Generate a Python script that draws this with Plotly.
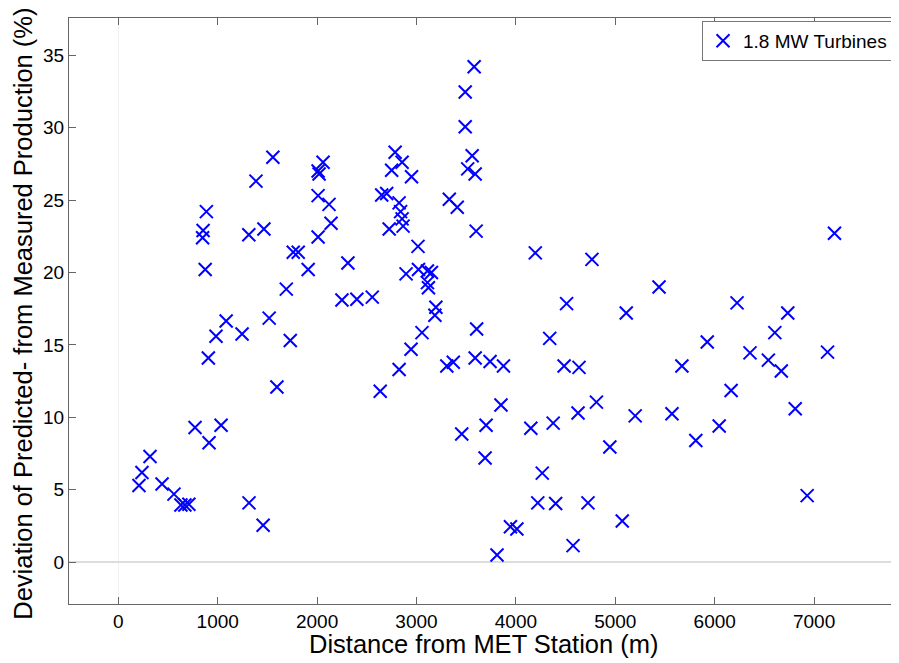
import plotly.graph_objects as go

distance_m = [
    208, 238, 319, 440, 560, 630, 670, 710, 772, 913, 1034, 1315, 1457,
    906, 983, 1245, 1730, 1596, 1555, 1385, 886, 853, 848, 874, 1313, 1465,
    1760, 1810, 1910, 1690, 1085, 1518,
    2010, 2020, 2060, 2010, 2120, 2140, 2010, 2310, 2250, 2400, 2555,
    2785, 2855, 2750, 2950, 2650, 2700, 2825, 2840, 2855, 2725, 2865,
    3015, 2895, 3020, 3110, 3150, 3110, 3120, 3195, 3185, 3055, 2945, 2825, 2635,
    3580, 3490, 3490, 3560, 3515, 3590, 3330, 3410, 3600, 3605, 3590,
    3305, 3370, 3740, 3875, 3850, 3700, 3455, 3690,
    4195, 4765, 4510, 4340, 4485, 4635, 4150, 4375, 4625, 4810, 4265,
    4220, 4400, 4725, 3945, 4010, 3810, 4575,
    5440, 5110, 6225, 6735, 6605, 5925, 6355, 6540, 6670, 7135, 5670,
    6165, 5200, 5570, 4945, 5810, 6045, 6810, 6930, 5070, 7205,
]
deviation_pct = [
    5.3, 6.2, 7.3, 5.4, 4.7, 3.95, 3.95, 4.0, 9.3, 8.25, 9.45, 4.1, 2.55,
    14.1, 15.6, 15.75, 15.3, 12.1, 27.95, 26.3, 24.2, 22.9, 22.4, 20.2, 22.6, 23.0,
    21.4, 21.4, 20.2, 18.85, 16.65, 16.85,
    27.0, 26.8, 27.6, 25.3, 24.7, 23.4, 22.45, 20.65, 18.1, 18.15, 18.3,
    28.3, 27.6, 27.05, 26.6, 25.35, 25.45, 24.8, 24.2, 23.7, 23.0, 23.2,
    21.8, 19.9, 20.2, 20.1, 20.0, 19.3, 18.95, 17.6, 17.05, 15.85, 14.7, 13.3, 11.8,
    34.2, 32.45, 30.05, 28.05, 27.15, 26.8, 25.05, 24.5, 22.85, 16.1, 14.1,
    13.55, 13.8, 13.85, 13.55, 10.85, 9.45, 8.85, 7.2,
    21.35, 20.9, 17.85, 15.45, 13.55, 13.45, 9.25, 9.6, 10.3, 11.05, 6.15,
    4.1, 4.05, 4.1, 2.45, 2.3, 0.5, 1.15,
    19.0, 17.2, 17.9, 17.2, 15.85, 15.2, 14.45, 13.95, 13.2, 14.5, 13.55,
    11.85, 10.1, 10.25, 7.95, 8.4, 9.4, 10.6, 4.6, 2.85, 22.7,
]

x_ticks = [0, 1000, 2000, 3000, 4000, 5000, 6000, 7000]
y_ticks = [0, 5, 10, 15, 20, 25, 30, 35]
x_title = "Distance from MET Station (m)"
y_title = "Deviation of Predicted- from Measured Production (%)"

FONT = "Liberation Sans, Arial, Helvetica, sans-serif"

fig = go.Figure()
fig.add_trace(go.Scatter(
    x=distance_m, y=deviation_pct, mode="markers", name="1.8 MW Turbines",
    marker=dict(symbol="x-thin", size=13, color="#0000FF",
                line=dict(color="#0000FF", width=2)),
))

axis_common = dict(
    showgrid=False, showline=True, linecolor="#666666", linewidth=1,
    mirror="allticks", ticks="inside", ticklen=7, tickcolor="#666666",
    tickfont=dict(family=FONT, size=19, color="#000000"),
    automargin=False,
)
fig.update_xaxes(
    range=[-496, 7844], tickvals=x_ticks, ticktext=[str(v) for v in x_ticks],
    zeroline=True, zerolinecolor="#f0f0f0", zerolinewidth=1,
    **axis_common,
)
fig.update_yaxes(
    range=[-2.88, 37.56], tickvals=y_ticks, ticktext=[str(v) for v in y_ticks],
    zeroline=True, zerolinecolor="#dddddd", zerolinewidth=1.5,
    **axis_common,
)
fig.add_annotation(text=x_title, xref="paper", yref="paper", x=0.5, y=-0.069,
                   xanchor="center", yanchor="middle", showarrow=False,
                   font=dict(family=FONT, size=25.5, color="#000000"))
fig.add_annotation(text=y_title, xref="paper", yref="paper", x=-0.055, y=0.496,
                   xanchor="center", yanchor="middle", textangle=-90, showarrow=False,
                   font=dict(family=FONT, size=25.5, color="#000000"))
# the page body has an 8px margin, so the figure is shifted by 8px
fig.update_layout(
    width=891, height=655,
    margin=dict(l=61, r=1, t=10, b=59, autoexpand=False),
    plot_bgcolor="white", paper_bgcolor="white",
    showlegend=True,
    legend=dict(x=0.994, y=0.995, xanchor="right", yanchor="top",
                bgcolor="white", bordercolor="#777777", borderwidth=1,
                font=dict(family=FONT, size=19, color="#000000")),
)
fig.write_html("out.html")
